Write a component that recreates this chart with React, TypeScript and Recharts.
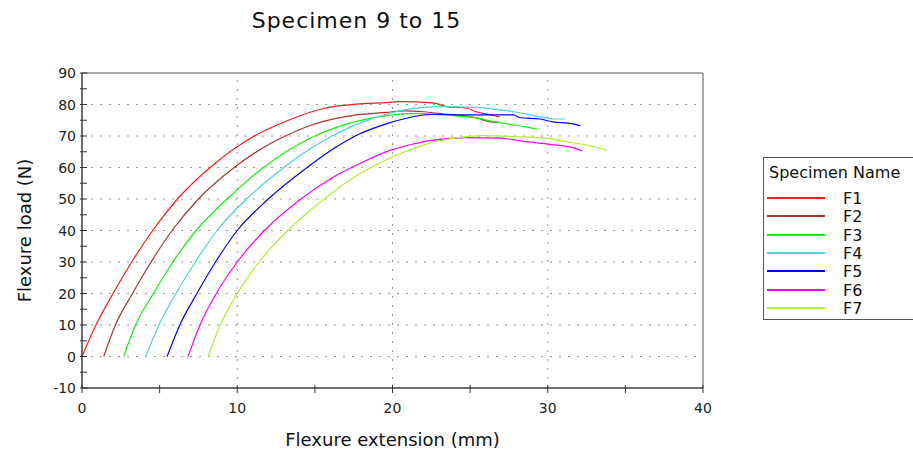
import {
  Label,
  Line,
  LineChart,
  ReferenceArea,
  ReferenceLine,
  XAxis,
  YAxis,
} from 'recharts'

// extension (mm), load (N)
const F1: [number, number][] = [
  [0, 0], [0.9, 10], [2.0, 20], [3.2, 30], [4.55, 40], [6.15, 50], [8.25, 60],
  [11.1, 70], [13.3, 75], [15.6, 78.8], [17.9, 80.2], [19.6, 80.6], [20.5, 80.9],
  [22.6, 80.5], [23.5, 79.3], [24.8, 78.8], [25.4, 77.7], [26.1, 76.9], [26.9, 76.1],
]
const F2: [number, number][] = [
  [1.4, 0], [2.15, 10], [3.25, 20], [4.45, 30], [5.8, 40], [7.5, 50], [9.8, 60],
  [11.4, 65.5], [13.1, 70], [14.8, 73.5], [16.3, 75.5], [17.7, 76.7], [19.6, 77.5],
  [20.8, 78], [22, 77.7], [23.5, 76.9], [25.4, 75.8], [26.3, 74.5], [26.8, 74.3],
]
const F3: [number, number][] = [
  [2.68, 0], [3.45, 10], [4.6, 20], [5.85, 30], [7.35, 40], [9.35, 50], [11.7, 60],
  [13.3, 65.5], [15.0, 70], [17.2, 74], [19.4, 76.3], [21.5, 77.2], [23.7, 76.5],
  [25.6, 75.6], [26.3, 74.8], [27.8, 73.5], [28.6, 72.9], [29.3, 72.2],
]
const F4: [number, number][] = [
  [4.1, 0], [4.95, 10], [6.05, 20], [7.3, 30], [8.7, 40], [10.6, 50], [13.0, 60],
  [14.5, 65.3], [16.1, 70], [18.1, 74.5], [19.9, 77.3], [21.8, 79], [23.5, 79.3],
  [25.4, 79.1], [26.9, 78.3], [27.8, 77.7], [29.5, 76.1], [30.4, 75.4], [31.1, 75.4],
]
const F5: [number, number][] = [
  [5.48, 0], [6.3, 10], [7.4, 20], [8.6, 30], [10.0, 40], [12.0, 50], [14.5, 60],
  [16.0, 65.3], [17.6, 70], [19.7, 74], [21.4, 76.2], [22.6, 76.9], [24.8, 76.7],
  [27.8, 76.7], [28.2, 75.8], [29.5, 75.4], [30.3, 74.5], [31.4, 74], [32.1, 73.3],
]
const F6: [number, number][] = [
  [6.83, 0], [7.6, 10], [8.65, 20], [10.0, 30], [11.75, 40], [14.1, 50], [16.2, 57],
  [18.2, 62], [19.9, 65.5], [21.2, 67.3], [22.6, 68.7], [24.8, 69.5], [26.9, 69.3],
  [28.6, 68.2], [30.6, 67.1], [31.6, 66.3], [32.2, 65.2],
]
const F7: [number, number][] = [
  [8.12, 0], [8.9, 10], [10.0, 20], [11.4, 30], [13.25, 40], [15.6, 50], [17.4, 56.5],
  [19.2, 61.5], [20.8, 65], [22.3, 67.6], [24.0, 69.3], [25.8, 70.1], [28, 69.8],
  [29.9, 69.3], [31.2, 68.2], [32.5, 67.1], [33.4, 66.1], [33.8, 65.6],
]

const specimens = ['F1', 'F2', 'F3', 'F4', 'F5', 'F6', 'F7']
const curves = [F1, F2, F3, F4, F5, F6, F7]
const colors = ['#ff1a1a', '#a83232', '#14ee14', '#4cd4d0', '#0000ff', '#ff00ff', '#b0f034']

const xTicks = [0, 5, 10, 15, 20, 25, 30, 35, 40]
const yTicks = [-10, -5, 0, 5, 10, 15, 20, 25, 30, 35, 40, 45, 50, 55, 60, 65, 70, 75, 80, 85, 90]
const xGrid = [10, 20, 30]
const yGrid = [0, 10, 20, 30, 40, 50, 60, 70, 80]

const FONT = 'DejaVu Sans, Verdana, sans-serif'

const XTick = (props: any) => {
  const { x, y, payload } = props
  const v = payload.value
  return (
    <g>
      <line x1={x} x2={x} y1={y - 14 - 3} y2={y - 14 + 5} stroke="#333" />
      {v % 10 === 0 && (
        <text x={x} y={y} dy="0.75em" textAnchor="middle" fontSize={14} fill="#222" fontFamily={FONT}>
          {v}
        </text>
      )}
    </g>
  )
}

const YTick = (props: any) => {
  const { x, y, payload } = props
  const v = payload.value
  return (
    <g>
      <line x1={x + 6 - 2} x2={x + 6 + 5} y1={y} y2={y} stroke="#333" />
      {v % 10 === 0 && (
        <text x={x} y={y} dy="0.36em" textAnchor="end" fontSize={14} fill="#222" fontFamily={FONT}>
          {v}
        </text>
      )}
    </g>
  )
}

export default function App() {
  return (
    <div
      style={{
        position: 'absolute',
        left: 0,
        top: 0,
        width: 913,
        height: 455,
        background: '#fff',
        fontFamily: FONT,
      }}
    >
      <div
        style={{
          position: 'absolute',
          left: 0,
          width: 713,
          top: 8,
          textAlign: 'center',
          fontSize: 22,
          letterSpacing: 1,
          color: '#111',
        }}
      >
        Specimen 9 to 15
      </div>
      <LineChart width={913} height={455} margin={{ top: 73, right: 210, bottom: 0, left: 0 }}>
        <ReferenceArea x1={0} x2={40} y1={-10} y2={90} stroke="#555" fill="none" />
        {yGrid.map((v) => (
          <ReferenceLine key={'h' + v} y={v} stroke="#9c9a8a" strokeDasharray="2 7" />
        ))}
        {xGrid.map((v) => (
          <ReferenceLine key={'v' + v} x={v} stroke="#9c9a8a" strokeDasharray="2 7" />
        ))}
        <XAxis
          type="number"
          dataKey="x"
          domain={[0, 40]}
          ticks={xTicks}
          interval={0}
          height={67}
          tickSize={0}
          tickMargin={14}
          tick={<XTick />}
          axisLine={{ stroke: '#333' }}
          allowDataOverflow
        >
          <Label
            value="Flexure extension (mm)"
            position="insideBottom"
            offset={9}
            style={{ fontSize: 18, fill: '#111', fontFamily: FONT }}
          />
        </XAxis>
        <YAxis
          type="number"
          domain={[-10, 90]}
          ticks={yTicks}
          interval={0}
          width={82}
          tickSize={0}
          tickMargin={6}
          tick={<YTick />}
          axisLine={{ stroke: '#333' }}
          allowDataOverflow
        >
          <Label
            value="Flexure load (N)"
            angle={-90}
            position="insideLeft"
            offset={25}
            style={{ fontSize: 18, fill: '#111', fontFamily: FONT, textAnchor: 'middle' }}
          />
        </YAxis>
        {curves.map((c, i) => (
          <Line
            key={specimens[i]}
            name={specimens[i]}
            data={c.map(([x, y]) => ({ x, y }))}
            dataKey="y"
            type="monotone"
            stroke={colors[i]}
            strokeWidth={1.2}
            dot={false}
            activeDot={false}
            isAnimationActive={false}
          />
        ))}
      </LineChart>
      <div
        style={{
          position: 'absolute',
          left: 763,
          top: 157,
          width: 150,
          height: 163,
          boxSizing: 'border-box',
          border: '1px solid #555',
          borderRight: 'none',
          fontSize: 15,
          color: '#111',
        }}
      >
        <div style={{ position: 'absolute', left: 5, top: 5, fontSize: 16, whiteSpace: 'nowrap' }}>
          Specimen Name
        </div>
        {specimens.map((s, i) => (
          <div key={s} style={{ position: 'absolute', left: 3, top: 31 + i * 18.3, height: 18, width: 140 }}>
            <div
              style={{ position: 'absolute', left: 0, top: 8, width: 58, height: 0, borderTop: `2px solid ${colors[i]}` }}
            />
            <div style={{ position: 'absolute', left: 76, top: 0, fontSize: 16 }}>{s}</div>
          </div>
        ))}
      </div>
    </div>
  )
}
